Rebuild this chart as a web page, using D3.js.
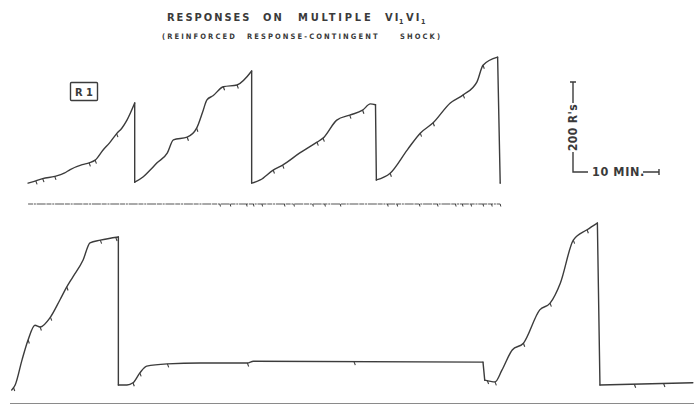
<!DOCTYPE html>
<html>
<head>
<meta charset="utf-8">
<script src="https://cdn.jsdelivr.net/npm/d3@7"></script>
<style>
  html, body { margin: 0; padding: 0; background: #fff; }
  svg { display: block; }
  text { font-family: "DejaVu Sans Condensed", "DejaVu Sans", "Liberation Sans", sans-serif; fill: #3a3a3a; font-weight: bold; }
</style>
</head>
<body>
<svg id="chart" width="694" height="405"></svg>
<script>
// ---- Data (minutes, cumulative responses) read from the record ----
const titleWords = ["RESPONSES", "ON", "MULTIPLE", "VI", "VI"];
const subtitleWords = ["(REINFORCED", "RESPONSE-CONTINGENT", "SHOCK)"];
const recordLabel = "R 1";
const scaleRespLabel = "200 R's";
const scaleTimeLabel = "10 MIN.";
const scaleResp = 200;
const scaleMin = 10;

// Top record (R1): [minutes, responses]; pen resets after each excursion
const topRecord = [
  [2.1, 2], [3.0, 7], [3.8, 12], [5.2, 17], [6.3, 24], [7.0, 32], [8.4, 43], [9.2, 47], [9.9, 53],
  [10.8, 75], [11.6, 92], [12.4, 112], [13.0, 124], [13.6, 142], [14.5, 180], [14.5, 4],
  [15.5, 16], [16.3, 31], [17.1, 47], [18.3, 69], [19.0, 98], [20.6, 104], [21.7, 124],
  [22.4, 160], [22.9, 187], [23.6, 196], [24.8, 216], [26.4, 220], [28.1, 251], [28.1, 2],
  [29.1, 9], [30.6, 31], [31.7, 42], [33.7, 69], [35.7, 93], [36.4, 102], [38.0, 142],
  [39.5, 153], [41.0, 164], [41.9, 178], [42.5, 176], [42.6, 9],
  [44.2, 24], [46.2, 76], [47.7, 113], [49.2, 136], [51.2, 180], [52.7, 198], [54.3, 227],
  [55.0, 264], [56.7, 282], [57.0, 2]
];
const topPips = [3.0, 3.8, 5.2, 9.2, 9.9, 12.4, 20.6, 21.7, 24.8, 26.4, 30.6, 31.7, 35.7, 36.4,
  39.5, 41.0, 44.2, 47.7, 49.2, 52.7, 55.0];

// Bottom record
const bottomRecord = [
  [0.2, 0], [0.6, 11], [1.4, 67], [2.1, 111], [2.9, 144], [3.5, 140], [4.7, 162], [5.8, 200],
  [6.6, 229], [7.3, 251], [8.5, 289], [9.3, 327], [10.5, 333], [12.6, 340], [12.6, 11],
  [13.6, 11], [14.3, 16], [15.1, 38], [15.9, 53], [18.3, 58], [22.1, 60], [27.6, 60],
  [28.3, 64], [55.0, 62], [55.2, 22], [56.4, 18], [57.2, 44], [58.4, 89], [59.7, 104],
  [61.6, 178], [62.8, 193], [64.0, 238], [65.5, 333], [67.1, 356], [68.3, 371], [68.6, 11],
  [79.4, 16]
];
const bottomPips = [0.4, 2.1, 3.5, 4.7, 6.6, 10.5, 12.3, 14.3, 15.1, 18.3, 27.6, 40.0, 55.5,
  56.4, 59.7, 62.8, 65.5, 67.1, 72.6, 76.0];

// Event-pen marks under the top record (minutes)
const eventMarks = [24.4, 25.6, 27.5, 28.3, 29.3, 31.9, 33.0, 35.2, 36.6, 38.4, 43.9, 45.0, 47.6,
  49.7, 51.8, 52.6, 53.6, 55.0, 56.0, 57.0];

// ---- Scales ----
const svg = d3.select("#chart");
const ink = "#3c3c3c";
const x = d3.scaleLinear().domain([0, 80]).range([10, 698]);      // 8.6 px per minute
const yTop = d3.scaleLinear().domain([0, 200]).range([184, 94]);   // 0.45 px per response
const yBot = d3.scaleLinear().domain([0, 200]).range([390, 300]);

function valueAt(rec, t) {
  for (let i = 1; i < rec.length; i++) {
    const a = rec[i - 1], b = rec[i];
    if (t >= a[0] && t <= b[0] && b[0] > a[0]) {
      return a[1] + (b[1] - a[1]) * (t - a[0]) / (b[0] - a[0]);
    }
  }
  return rec[rec.length - 1][1];
}

// split a record into pen runs at resets (large vertical drops)
function runs(rec) {
  const out = [[rec[0]]];
  for (let i = 1; i < rec.length; i++) {
    const p = rec[i - 1], c = rec[i];
    if (c[0] - p[0] < 0.35 && Math.abs(c[1] - p[1]) > 15) out.push([c]);
    else out[out.length - 1].push(c);
  }
  return out;
}

function drawRecord(rec, ys, pips) {
  const smooth = d3.line().x(d => x(d[0])).y(d => ys(d[1])).curve(d3.curveMonotoneX);
  const straight = d3.line().x(d => x(d[0])).y(d => ys(d[1]));
  const g = svg.append("g").attr("fill", "none").attr("stroke", ink)
    .attr("stroke-width", 1.4).attr("stroke-linejoin", "round").attr("stroke-linecap", "round");
  const rs = runs(rec);
  g.selectAll("path.run").data(rs).join("path").attr("class", "run").attr("d", smooth);
  const drops = rs.slice(1).map((r, i) => [rs[i][rs[i].length - 1], r[0]]);
  g.selectAll("path.drop").data(drops).join("path").attr("class", "drop").attr("d", straight);
  svg.append("g").selectAll("path").data(pips).join("path")
    .attr("d", t => {
      const px = x(t), py = ys(valueAt(rec, t));
      return `M${px},${py} L${px + 1.3},${py + 3.5}`;
    })
    .attr("stroke", ink).attr("stroke-width", 1.1).attr("fill", "none");
}

drawRecord(topRecord, yTop, topPips);
drawRecord(bottomRecord, yBot, bottomPips);

// Event pen line
const evY = 204;
svg.append("line")
  .attr("x1", x(2.1)).attr("x2", x(57.0)).attr("y1", evY).attr("y2", evY)
  .attr("stroke", "#555").attr("stroke-width", 1.1).attr("stroke-dasharray", "5,0.8,2,0.8,9,0.8");
svg.append("g").selectAll("line").data(eventMarks).join("line")
  .attr("x1", d => x(d)).attr("x2", d => x(d) + 0.6)
  .attr("y1", evY).attr("y2", evY + 2.5)
  .attr("stroke", ink).attr("stroke-width", 1);

// Bottom baseline
svg.append("line")
  .attr("x1", 10).attr("x2", 694).attr("y1", 403.5).attr("y2", 403.5)
  .attr("stroke", "#8a8a8a").attr("stroke-width", 1.2);

// Title words at measured start positions
const titleX = [167, 263, 298, 385, 406];
const tg = svg.append("g");
titleWords.forEach((w, i) => {
  tg.append("text").attr("x", titleX[i]).attr("y", 21)
    .attr("font-size", 11).attr("letter-spacing", i === 2 ? 2.8 : 2).text(w);
});
[399, 421].forEach(px => {
  tg.append("text").attr("x", px).attr("y", 24).attr("font-size", 7).text("1");
});

const subX = [162, 247, 400];
subtitleWords.forEach((w, i) => {
  svg.append("text").attr("x", subX[i]).attr("y", 39)
    .attr("font-size", 7.5).attr("fill", "#4a4a4a").attr("letter-spacing", 2.1)
    .text(w);
});

// R1 box
svg.append("rect").attr("x", 70.5).attr("y", 82.5).attr("width", 27).attr("height", 18)
  .attr("fill", "none").attr("stroke", ink).attr("stroke-width", 1.4).attr("rx", 1);
svg.append("text").attr("x", 84).attr("y", 96).attr("text-anchor", "middle")
  .attr("font-size", 11).text(recordLabel);

// Scale bars
const sx = 573, sBottom = 172;
const sTop = sBottom - (yTop(0) - yTop(scaleResp));
const sRight = sx + (x(scaleMin) - x(0));
svg.append("path")
  .attr("d", `M${sx - 3},${sTop} H${sx + 3} M${sx},${sTop} V${103} M${sx},${152} V${sBottom} H${588}
             M${643},${sBottom} H${sRight} M${sRight},${sBottom - 3} V${sBottom + 3}`)
  .attr("fill", "none").attr("stroke", ink).attr("stroke-width", 1.4);
svg.append("text")
  .attr("transform", `translate(${sx + 4},${127.5}) rotate(-90)`)
  .attr("text-anchor", "middle").attr("font-size", 12).attr("letter-spacing", 0.4).text(scaleRespLabel);
svg.append("text").attr("x", 592).attr("y", 176)
  .attr("font-size", 12.5).attr("letter-spacing", 0.6).text(scaleTimeLabel);
</script>
</body>
</html>
